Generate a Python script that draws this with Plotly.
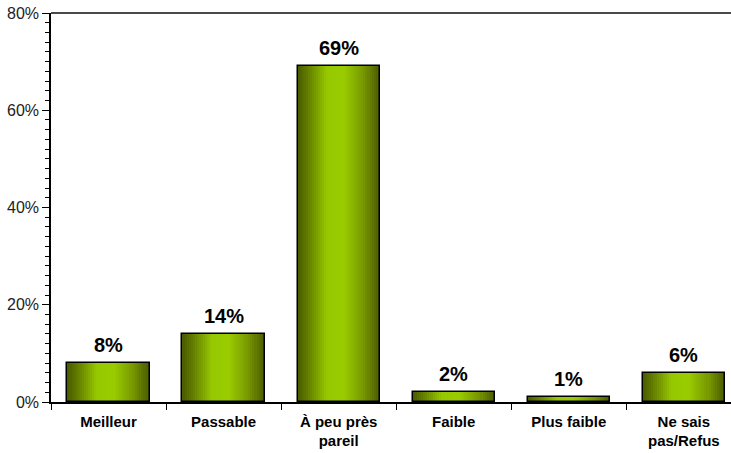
import plotly.graph_objects as go

categories = ["Meilleur", "Passable", "À peu près<br>pareil", "Faible", "Plus faible", "Ne sais<br>pas/Refus"]
values = [8, 14, 69, 2, 1, 6]
value_labels = ["8%", "14%", "69%", "2%", "1%", "6%"]
y_ticks = [0, 20, 40, 60, 80]

FONT = "Liberation Sans, Arial, sans-serif"
BAR_W = 0.715
N_STRIPS = 40

stops = [(0.0, (0x4a, 0x5c, 0x00)), (0.12, (0x62, 0x7c, 0x00)), (0.36, (0x96, 0xc8, 0x00)),
         (0.56, (0x99, 0xcc, 0x00)), (0.8, (0x78, 0x98, 0x00)), (1.0, (0x48, 0x58, 0x00))]


def grad(t):
    for (t0, c0), (t1, c1) in zip(stops[:-1], stops[1:]):
        if t0 <= t <= t1:
            f = (t - t0) / (t1 - t0) if t1 > t0 else 0
            c = [round(a + (b - a) * f) for a, b in zip(c0, c1)]
            return "rgb(%d,%d,%d)" % tuple(c)
    return "rgb(%d,%d,%d)" % stops[-1][1]


fig = go.Figure()
step = BAR_W / N_STRIPS
for i in range(N_STRIPS):
    w = step * (1.25 if i < N_STRIPS - 1 else 1.0)
    fig.add_trace(go.Bar(
        x=categories, y=values, width=w, offset=-BAR_W / 2 + i * step,
        marker=dict(color=grad((i + 0.5) / N_STRIPS), line=dict(width=0)),
        hoverinfo="skip", showlegend=False))

fig.add_trace(go.Bar(
    x=categories, y=values, width=BAR_W, offset=-BAR_W / 2,
    marker=dict(color="rgba(0,0,0,0)", line=dict(color="black", width=1.5)),
    showlegend=False))

for c, v, t in zip(categories, values, value_labels):
    fig.add_annotation(x=c, y=v, text=t, showarrow=False, yanchor="bottom", yshift=5,
                       font=dict(family=FONT, size=20, color="black", weight="bold"))

fig.add_shape(type="line", xref="paper", yref="paper", x0=0, x1=1, y0=1, y1=1,
              line=dict(color="#4a4a4a", width=2))

fig.update_layout(
    width=731, height=453,
    margin=dict(l=51, r=0, t=13, b=51),
    barmode="overlay",
    plot_bgcolor="white", paper_bgcolor="white",
    font=dict(family=FONT, color="black"),
    bargap=0,
    xaxis=dict(
        type="category", range=[-0.5, 5.41], automargin=False,
        showline=True, linecolor="black", linewidth=1.5,
        ticks="outside", tickson="boundaries", ticklen=6, tickcolor="black", tickwidth=1.2,
        tickfont=dict(family=FONT, size=15, color="black", weight="bold"),
        ticklabelstandoff=5,
        showgrid=False, zeroline=False,
    ),
    yaxis=dict(
        range=[0, 80], tickvals=y_ticks, ticktext=["%d%%" % v for v in y_ticks],
        automargin=False,
        showline=True, linecolor="black", linewidth=1.5,
        ticks="outside", ticklen=7, tickcolor="black", tickwidth=1.2,
        minor=dict(dtick=2, ticks="outside", ticklen=4, tickcolor="black", tickwidth=1.2),
        tickfont=dict(family=FONT, size=16, color="#222"),
        showgrid=False, zeroline=False,
    ),
)

fig.write_html("out.html", config={"displayModeBar": False},
               post_script="document.body.style.margin='0px';")
